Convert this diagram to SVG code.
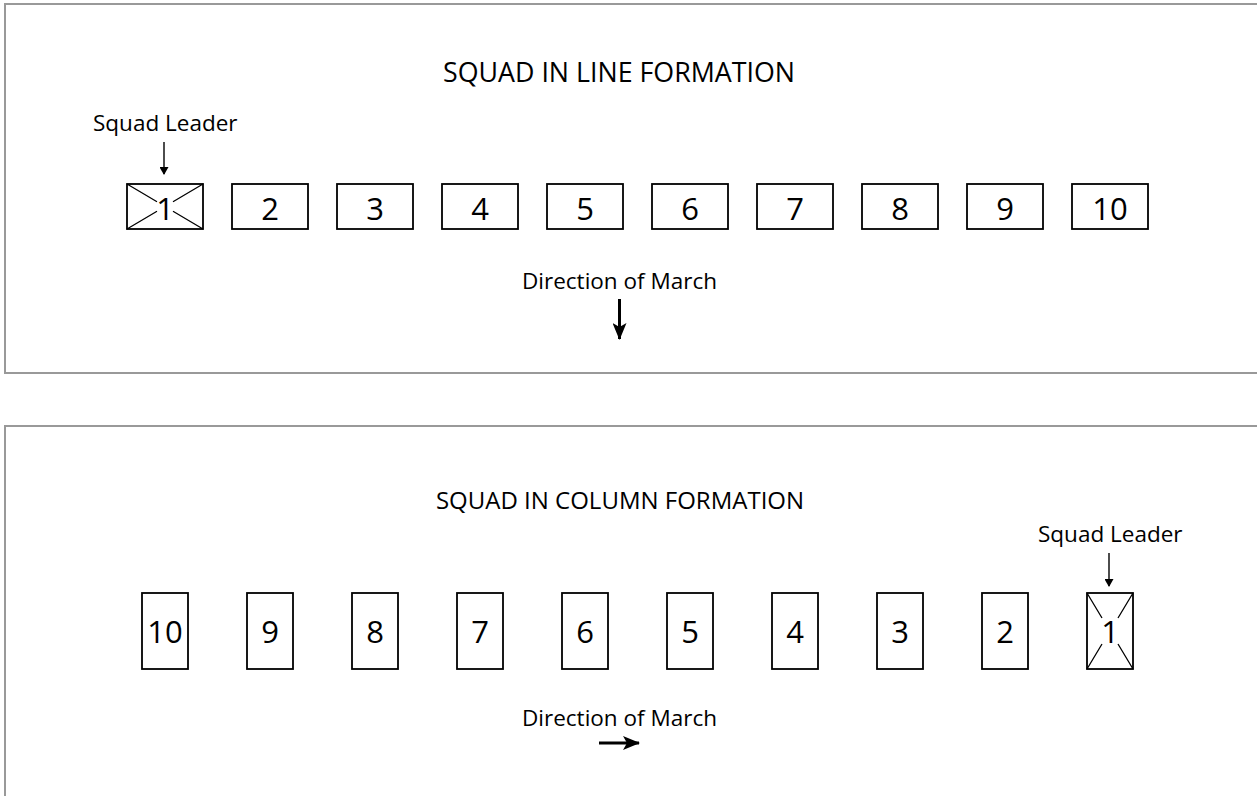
<svg xmlns="http://www.w3.org/2000/svg" width="1257" height="796" viewBox="0 0 1257 796">
<style>
.panel{fill:#fff;stroke:#999;stroke-width:2}
.box{fill:#fff;stroke:#000;stroke-width:1.8}
.x{stroke:#000;stroke-width:1.3;fill:none}
.num{font-family:"Open Sans","Liberation Sans",sans-serif;font-size:31px;text-anchor:middle;fill:#000}
.title{font-family:"Open Sans","Liberation Sans",sans-serif;font-size:26.8px;text-anchor:middle;fill:#000}
.lbl{font-family:"Open Sans","Liberation Sans",sans-serif;font-size:22.5px;fill:#000}
.thin{stroke:#000;stroke-width:1.4}
.thick{stroke:#000;stroke-width:3}
</style>
<defs>
<marker id="ah" markerWidth="8" markerHeight="9" refX="7" refY="4.5" orient="auto" markerUnits="userSpaceOnUse" viewBox="0 0 8 9"><path d="M0,0 L8,4.5 L0,9 z" fill="#000"/></marker>
<marker id="ahb" markerWidth="17" markerHeight="14" refX="16" refY="7" orient="auto" markerUnits="userSpaceOnUse" viewBox="0 0 17 14"><path d="M0,0 L17,7 L0,14 L4,7 z" fill="#000"/></marker>
</defs>
<rect width="1257" height="796" fill="#fff"/>
<g id="panel-line">
<rect class="panel" x="5" y="4" width="1260" height="369"/>
<text class="title" x="619" y="82">SQUAD IN LINE FORMATION</text>
</g>
<g id="panel-column">
<rect class="panel" x="5" y="426" width="1260" height="380"/>
<text class="title" x="620" y="509" style="font-size:24px">SQUAD IN COLUMN FORMATION</text>
</g>
<g id="line-1"><rect class="box" x="127" y="184" width="76" height="45"/><path class="x" d="M127,184 L157,201.8 M203,184 L173,201.8 M127,229 L157,211.2 M203,229 L173,211.2"/><text class="num" x="165" y="220">1</text></g>
<g id="line-2"><rect class="box" x="232" y="184" width="76" height="45"/><text class="num" x="270" y="220">2</text></g>
<g id="line-3"><rect class="box" x="337" y="184" width="76" height="45"/><text class="num" x="375" y="220">3</text></g>
<g id="line-4"><rect class="box" x="442" y="184" width="76" height="45"/><text class="num" x="480" y="220">4</text></g>
<g id="line-5"><rect class="box" x="547" y="184" width="76" height="45"/><text class="num" x="585" y="220">5</text></g>
<g id="line-6"><rect class="box" x="652" y="184" width="76" height="45"/><text class="num" x="690" y="220">6</text></g>
<g id="line-7"><rect class="box" x="757" y="184" width="76" height="45"/><text class="num" x="795" y="220">7</text></g>
<g id="line-8"><rect class="box" x="862" y="184" width="76" height="45"/><text class="num" x="900" y="220">8</text></g>
<g id="line-9"><rect class="box" x="967" y="184" width="76" height="45"/><text class="num" x="1005" y="220">9</text></g>
<g id="line-10"><rect class="box" x="1072" y="184" width="76" height="45"/><text class="num" x="1110" y="220">10</text></g>
<g id="line-leader-label"><text class="lbl" x="93" y="131">Squad Leader</text></g>
<g id="line-direction-label"><text class="lbl" x="522" y="289">Direction of March</text></g>
<g id="col-10"><rect class="box" x="142" y="593" width="46" height="76"/><text class="num" x="165" y="643">10</text></g>
<g id="col-9"><rect class="box" x="247" y="593" width="46" height="76"/><text class="num" x="270" y="643">9</text></g>
<g id="col-8"><rect class="box" x="352" y="593" width="46" height="76"/><text class="num" x="375" y="643">8</text></g>
<g id="col-7"><rect class="box" x="457" y="593" width="46" height="76"/><text class="num" x="480" y="643">7</text></g>
<g id="col-6"><rect class="box" x="562" y="593" width="46" height="76"/><text class="num" x="585" y="643">6</text></g>
<g id="col-5"><rect class="box" x="667" y="593" width="46" height="76"/><text class="num" x="690" y="643">5</text></g>
<g id="col-4"><rect class="box" x="772" y="593" width="46" height="76"/><text class="num" x="795" y="643">4</text></g>
<g id="col-3"><rect class="box" x="877" y="593" width="46" height="76"/><text class="num" x="900" y="643">3</text></g>
<g id="col-2"><rect class="box" x="982" y="593" width="46" height="76"/><text class="num" x="1005" y="643">2</text></g>
<g id="col-1"><rect class="box" x="1087" y="593" width="46" height="76"/><path class="x" d="M1087,593 L1102,618 M1133,593 L1118,618 M1087,669 L1102,644 M1133,669 L1118,644"/><text class="num" x="1110" y="643">1</text></g>
<g id="col-leader-label"><text class="lbl" x="1038" y="542">Squad Leader</text></g>
<g id="col-direction-label"><text class="lbl" x="522" y="726">Direction of March</text></g>
<g id="connectors">
<line class="thin" x1="164" y1="142" x2="164" y2="174" marker-end="url(#ah)"/>
<line class="thick" x1="619.5" y1="299" x2="619.5" y2="339" marker-end="url(#ahb)"/>
<line class="thin" x1="1109" y1="553" x2="1109" y2="586" marker-end="url(#ah)"/>
<line class="thick" x1="599" y1="743" x2="639" y2="743" marker-end="url(#ahb)"/>
</g>
</svg>
